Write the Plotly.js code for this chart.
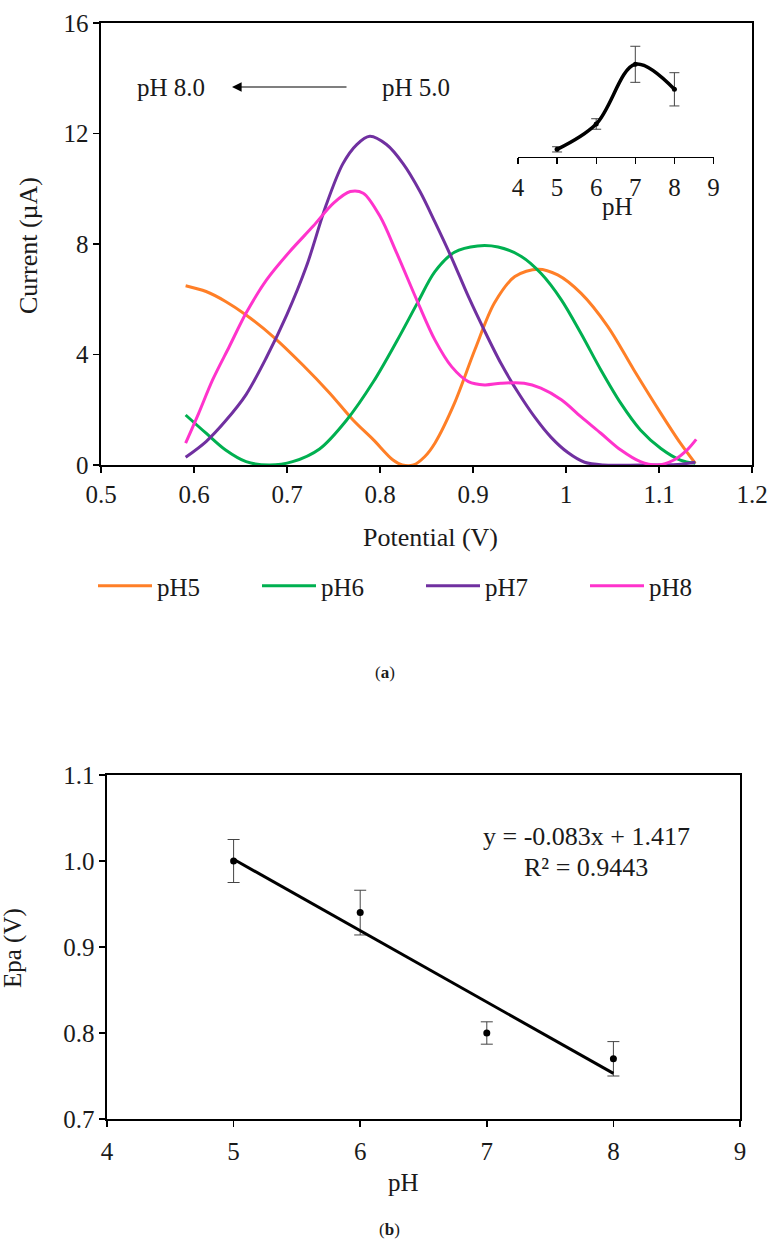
<!DOCTYPE html>
<html>
<head>
<meta charset="utf-8">
<script src="https://cdn.plot.ly/plotly-3.0.1.min.js"></script>
<style>html,body{margin:0;padding:0;background:#fff;}#chart{width:770px;height:1245px;}</style>
</head>
<body>
<div id="chart"></div>
<script>
// ---- Panel (a): DPV curves ----
const pH5_x = [0.591,0.613,0.634,0.656,0.685,0.717,0.746,0.771,0.793,0.814,0.824,0.836,0.848,0.859,0.880,0.902,0.923,0.945,0.970,0.991,1.016,1.045,1.073,1.102,1.123,1.139];
const pH5_y = [6.49,6.28,5.92,5.43,4.65,3.62,2.60,1.63,0.91,0.18,0.0,0.0,0.3,0.79,2.23,4.17,5.86,6.82,7.09,6.88,6.22,5.01,3.44,1.87,0.79,0.06];
const pH6_x = [0.591,0.613,0.634,0.656,0.681,0.706,0.735,0.764,0.793,0.818,0.840,0.859,0.880,0.905,0.927,0.952,0.973,0.995,1.016,1.0375,1.059,1.080,1.102,1.123,1.139];
const pH6_y = [1.81,1.15,0.54,0.12,0.0,0.12,0.58,1.62,3.02,4.48,5.85,7.0,7.70,7.93,7.89,7.55,6.94,5.98,4.77,3.44,2.23,1.27,0.60,0.18,0.06];
const pH7_x = [0.591,0.613,0.634,0.656,0.678,0.700,0.721,0.742,0.760,0.775,0.789,0.807,0.825,0.843,0.859,0.877,0.895,0.9125,0.930,0.948,0.966,0.984,1.002,1.020,1.04,1.08,1.12,1.139];
const pH7_y = [0.28,0.85,1.6,2.55,3.9,5.45,7.2,9.4,10.9,11.6,11.9,11.6,10.9,9.9,8.8,7.5,6.1,4.85,3.68,2.65,1.75,1.0,0.45,0.1,0.0,0.0,0.02,0.1];
const pH8_x = [0.591,0.605,0.620,0.638,0.656,0.678,0.703,0.728,0.750,0.768,0.782,0.800,0.818,0.841,0.859,0.877,0.895,0.9125,0.930,0.955,0.973,0.995,1.016,1.0375,1.059,1.080,1.098,1.116,1.130,1.140];
const pH8_y = [0.79,1.87,3.08,4.29,5.50,6.70,7.73,8.64,9.48,9.90,9.84,9.00,7.67,5.86,4.53,3.56,3.02,2.90,2.96,2.96,2.78,2.36,1.75,1.15,0.54,0.12,0.0,0.18,0.54,0.93];
const seriesNames = ["pH5","pH6","pH7","pH8"];
const seriesColors = ["#FF7F27","#00B050","#7030A0","#FF33CC"];

// ---- Inset: peak current vs pH ----
const inset_pH = [5,6,7,8];
const inset_I = [7.0,8.45,11.86,10.43];
const inset_err = [0.15,0.3,1.03,0.95];
const insetTicks = [4,5,6,7,8,9];

// ---- Panel (b): Epa vs pH ----
const b_pH = [5,6,7,8];
const b_Epa = [1.0,0.94,0.80,0.77];
const b_err = [0.025,0.026,0.013,0.02];
const fit_pH = [5,8];
const fit_Epa = [1.002,0.753];
const bYTicks = [0.7,0.8,0.9,1.0,1.1];
const bXTicks = [4,5,6,7,8,9];

const FONT = "Liberation Serif";
const TXT = "#1a1a1a";
const W = 770, H = 1245;
const px = v => v / W;
const py = v => 1 - v / H;

const xs = [pH5_x,pH6_x,pH7_x,pH8_x];
const ys = [pH5_y,pH6_y,pH7_y,pH8_y];
const traces = [];
for (let i = 0; i < 4; i++) {
  traces.push({x: xs[i], y: ys[i], type: "scatter", mode: "lines", name: seriesNames[i],
    line: {color: seriesColors[i], width: 3, shape: "spline", smoothing: 0.9},
    xaxis: "x", yaxis: "y", showlegend: true});
}
traces.push({x: inset_pH, y: inset_I, type: "scatter", mode: "lines+markers",
  line: {color: "#000", width: 3.5, shape: "spline", smoothing: 1},
  marker: {color: "#000", size: 5},
  error_y: {type: "data", array: inset_err, visible: true, color: "#444", thickness: 1, width: 5},
  xaxis: "x3", yaxis: "y3", showlegend: false});
traces.push({x: b_pH, y: b_Epa, type: "scatter", mode: "markers",
  marker: {color: "#000", size: 7},
  error_y: {type: "data", array: b_err, visible: true, color: "#444", thickness: 1, width: 6},
  xaxis: "x2", yaxis: "y2", showlegend: false});
traces.push({x: fit_pH, y: fit_Epa, type: "scatter", mode: "lines",
  line: {color: "#000", width: 3},
  xaxis: "x2", yaxis: "y2", showlegend: false});

const axisBase = {showline: true, linecolor: "#000", linewidth: 1.6, ticks: "outside", ticklen: 6,
  tickwidth: 1.6, tickcolor: "#000", showgrid: false, zeroline: false,
  tickfont: {family: FONT, size: 25, color: TXT}, fixedrange: true};

function note(x, y, text, size, extra) {
  return Object.assign({xref: "paper", yref: "paper", x: px(x), y: py(y), text: text, showarrow: false,
    xanchor: "center", yanchor: "middle", font: {family: FONT, size: size, color: TXT}}, extra || {});
}

const layout = {
  width: W, height: H, margin: {l: 0, r: 0, t: 0, b: 0},
  paper_bgcolor: "#fff", plot_bgcolor: "rgba(0,0,0,0)",
  font: {family: FONT, color: TXT, size: 25},
  showlegend: true,
  legend: {orientation: "h", x: px(93), y: py(563), xanchor: "left", yanchor: "top",
    itemwidth: 54, entrywidth: 95, entrywidthmode: "pixels", font: {family: FONT, size: 25, color: TXT},
    bgcolor: "rgba(0,0,0,0)"},
  xaxis: Object.assign({}, axisBase, {domain: [px(101), px(752)], range: [0.5, 1.2], dtick: 0.1, tick0: 0.5, anchor: "y", mirror: true}),
  yaxis: Object.assign({}, axisBase, {domain: [py(465), py(23)], range: [0, 16], dtick: 4, tick0: 0, anchor: "x", mirror: true}),
  xaxis2: Object.assign({}, axisBase, {domain: [px(107), px(740)], range: [4, 9], tickvals: bXTicks, anchor: "y2", mirror: true, ticklabelstandoff: 3}),
  yaxis2: Object.assign({}, axisBase, {domain: [py(1119), py(775)], range: [0.7, 1.1], tickvals: bYTicks, tickformat: ".1f", anchor: "x2", mirror: true}),
  xaxis3: Object.assign({}, axisBase, {domain: [px(518), px(713.5)], range: [4, 9], tickvals: insetTicks, anchor: "y3", linewidth: 1.2, tickwidth: 1.2, ticklabelstandoff: 2}),
  yaxis3: {domain: [py(156.7), py(44.7)], range: [6.58, 12.98], visible: false, anchor: "x3", fixedrange: true},
  annotations: [
    {xref: "paper", yref: "paper", x: px(232), y: py(87), ax: 116, ay: 0, text: "", showarrow: true,
      arrowhead: 2, arrowsize: 1.6, arrowwidth: 1.2, arrowcolor: "#000"},
    note(171, 87, "pH 8.0", 25),
    note(416, 87, "pH 5.0", 25),
    note(430, 537, "Potential (V)", 26),
    note(28, 246, "Current (µA)", 26, {textangle: -90}),
    note(617, 206, "pH", 25),
    note(385, 672, "(<b>a</b>)", 17),
    note(586, 836, "y = -0.083x + 1.417", 26),
    note(586, 867, "R² = 0.9443", 26),
    note(403, 1182, "pH", 25),
    note(13, 948, "Epa (V)", 25, {textangle: -90}),
    note(390, 1229, "(<b>b</b>)", 17)
  ]
};

Plotly.newPlot("chart", traces, layout, {staticPlot: true, displayModeBar: false});
</script>
</body>
</html>
